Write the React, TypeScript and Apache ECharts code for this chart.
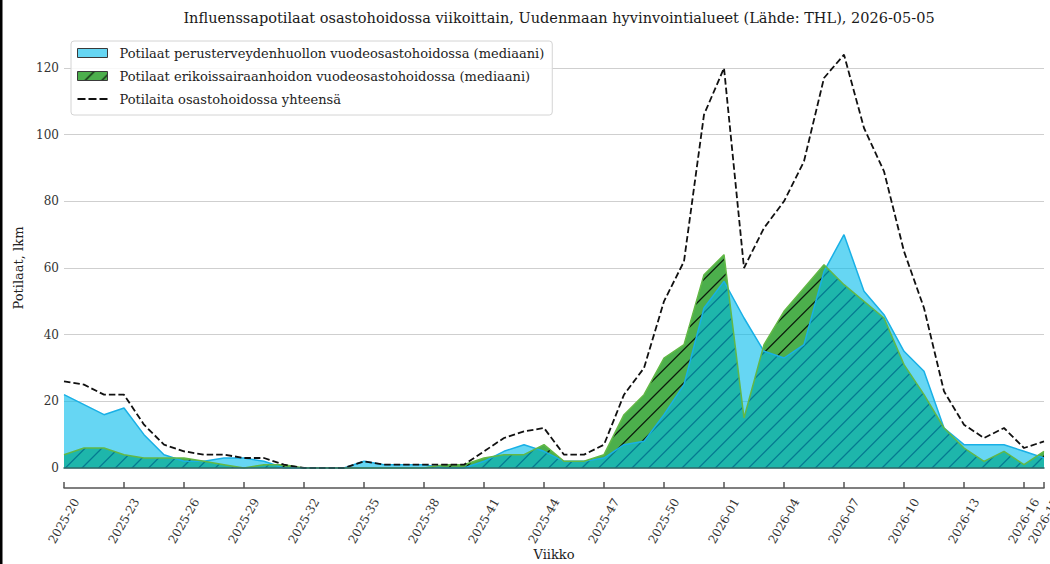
import React, { useEffect, useRef } from 'react';
import * as echarts from 'echarts';

const FONT = '"DejaVu Serif", "Liberation Serif", serif';

const TITLE = 'Influenssapotilaat osastohoidossa viikoittain, Uudenmaan hyvinvointialueet (Lähde: THL), 2026-05-05';
const NAME_PRIMARY = 'Potilaat perusterveydenhuollon vuodeosastohoidossa (mediaani)';
const NAME_SPECIAL = 'Potilaat erikoissairaanhoidon vuodeosastohoidossa (mediaani)';
const NAME_TOTAL = 'Potilaita osastohoidossa yhteensä';
const X_NAME = 'Viikko';
const Y_NAME = 'Potilaat, lkm';

const weeks = [
  '2025-20', '2025-21', '2025-22', '2025-23', '2025-24', '2025-25', '2025-26', '2025-27', '2025-28', '2025-29',
  '2025-30', '2025-31', '2025-32', '2025-33', '2025-34', '2025-35', '2025-36', '2025-37', '2025-38', '2025-39',
  '2025-40', '2025-41', '2025-42', '2025-43', '2025-44', '2025-45', '2025-46', '2025-47', '2025-48', '2025-49',
  '2025-50', '2025-51', '2025-52', '2026-01', '2026-02', '2026-03', '2026-04', '2026-05', '2026-06', '2026-07',
  '2026-08', '2026-09', '2026-10', '2026-11', '2026-12', '2026-13', '2026-14', '2026-15', '2026-16', '2026-17',
];

// Perusterveydenhuolto (blue)
const primaryCare = [
  22, 19, 16, 18, 10, 4, 2, 2, 3, 3,
  2, 0, 0, 0, 0, 2, 1, 1, 1, 0,
  0, 2, 5, 7, 5, 2, 2, 3, 7, 8,
  16, 25, 48, 56, 45, 35, 33, 37, 59, 70,
  53, 46, 35, 29, 12, 7, 7, 7, 5, 3,
];

// Erikoissairaanhoito (green, hatched)
const specialistCare = [
  4, 6, 6, 4, 3, 3, 3, 2, 1, 0,
  1, 1, 0, 0, 0, 0, 0, 0, 0, 1,
  1, 3, 4, 4, 7, 2, 2, 4, 16, 22,
  33, 37, 58, 64, 15, 37, 47, 54, 61, 55,
  50, 45, 31, 22, 12, 6, 2, 5, 1, 5,
];

// Yhteensä (dashed)
const totalPatients = [
  26, 25, 22, 22, 13, 7, 5, 4, 4, 3,
  3, 1, 0, 0, 0, 2, 1, 1, 1, 1,
  1, 5, 9, 11, 12, 4, 4, 7, 22, 30,
  50, 62, 106, 120, 60, 72, 80, 92, 117, 124,
  102, 89, 65, 48, 23, 13, 9, 12, 6, 8,
];

function makeHatch(bg: string, line: string, size: number, lw: number) {
  const c = document.createElement('canvas');
  c.width = size;
  c.height = size;
  const ctx = c.getContext('2d') as CanvasRenderingContext2D;
  ctx.fillStyle = bg;
  ctx.fillRect(0, 0, size, size);
  ctx.strokeStyle = line;
  ctx.lineWidth = lw;
  const step = size / 3;
  ctx.beginPath();
  for (let k = 0; k <= 6; k++) {
    const c0 = k * step;
    ctx.moveTo(c0 + 1, -1);
    ctx.lineTo(c0 - size - 1, size + 1);
  }
  ctx.stroke();
  return c;
}

const tickShown = (i: number) => i % 3 === 0 || i === weeks.length - 1;

export default function App() {
  const ref = useRef<HTMLDivElement>(null);

  useEffect(() => {
    if (!ref.current) return;
    const chart = echarts.init(ref.current, null, { renderer: 'svg' });
    const GREEN = '#4caf4c';
    const hatch = makeHatch(GREEN, 'rgba(0,0,0,0.85)', 50, 1.3);
    const hatchPattern: any = { image: hatch, repeat: 'repeat', imageWidth: 50, imageHeight: 50 };
    const hatchLegend: any = { image: makeHatch(GREEN, 'rgba(0,0,0,0.85)', 50, 1.3), repeat: 'repeat', imageWidth: 50, imageHeight: 50 };

    const dashIcon = 'path://M0,0L0,0M0,9L0,9M0,3.6h8v1.8h-8zM11,3.6h8v1.8h-8zM22,3.6h8v1.8h-8z';

    const option: any = {
      animation: false,
      title: {
        text: TITLE,
        left: 559,
        top: 10,
        padding: 0,
        textAlign: 'center',
        textStyle: { fontFamily: FONT, fontSize: 14.5, fontWeight: 'normal', color: '#1a1a1a' },
      },
      grid: { left: 64, right: 6, top: 68, bottom: 96, containLabel: false, outerBoundsMode: 'none' },
      legend: {
        orient: 'vertical',
        left: 71,
        top: 41,
        padding: [4, 8, 8, 6],
        itemWidth: 30,
        itemHeight: 9,
        itemGap: 7,
        selectedMode: false,
        backgroundColor: 'rgba(255,255,255,0.85)',
        borderColor: '#d4d4d4',
        borderWidth: 1,
        borderRadius: 3,
        textStyle: { fontFamily: FONT, fontSize: 13, color: '#222', padding: [0, 0, 0, 7], lineHeight: 16 },
        data: [
          { name: NAME_PRIMARY, icon: 'rect', itemStyle: { color: 'rgb(102,214,243)', borderColor: '#3a3a3a', borderWidth: 1 } },
          { name: NAME_SPECIAL, icon: 'rect', itemStyle: { color: hatchLegend, borderColor: '#3a3a3a', borderWidth: 1 } },
          { name: NAME_TOTAL, icon: dashIcon, itemStyle: { color: '#111', borderWidth: 0 } },
        ],
      },
      xAxis: [
        {
          type: 'category',
          data: weeks,
          boundaryGap: false,
          position: 'bottom',
          offset: 20,
          name: X_NAME,
          nameLocation: 'middle',
          nameGap: 60,
          nameMoveOverlap: false,
          nameTextStyle: { fontFamily: FONT, fontSize: 13, color: '#222' },
          axisLine: { onZero: false, lineStyle: { color: '#555', width: 1.5 } },
          axisTick: { inside: true, length: 6, interval: (i: number) => tickShown(i), lineStyle: { color: '#555', width: 1.5 } },
          axisLabel: {
            interval: (i: number) => tickShown(i),
            rotate: 60,
            align: 'center',
            verticalAlign: 'middle',
            margin: 33,
            fontFamily: FONT,
            fontSize: 12,
            color: '#333',
          },
          splitLine: { show: false },
        },
        {
          type: 'category',
          data: weeks,
          boundaryGap: false,
          position: 'bottom',
          offset: 0,
          z: 10,
          axisLine: { onZero: false, lineStyle: { color: '#2f6868', width: 1.5 } },
          axisTick: { show: false },
          axisLabel: { show: false },
          splitLine: { show: false },
        },
      ],
      yAxis: {
        type: 'value',
        min: 0,
        max: 120,
        interval: 20,
        name: Y_NAME,
        nameLocation: 'middle',
        nameGap: 33,
        nameTextStyle: { fontFamily: FONT, fontSize: 13, color: '#222' },
        axisLine: { show: false },
        axisTick: { show: false },
        axisLabel: { margin: 5, fontFamily: FONT, fontSize: 12, color: '#333' },
        splitLine: { lineStyle: { color: '#cfcfcf', width: 1 } },
      },
      series: [
        {
          name: NAME_SPECIAL,
          type: 'line',
          data: specialistCare,
          symbol: 'none',
          z: 2,
          lineStyle: { width: 0, opacity: 0 },
          areaStyle: { color: hatchPattern, opacity: 1 },
        },
        {
          name: NAME_PRIMARY,
          type: 'line',
          data: primaryCare,
          symbol: 'none',
          z: 3,
          lineStyle: { color: '#19b0e6', width: 1.5 },
          areaStyle: { color: 'rgba(0,187,235,0.6)', opacity: 1 },
        },
        {
          name: NAME_SPECIAL,
          type: 'line',
          data: specialistCare,
          symbol: 'none',
          z: 4,
          lineStyle: { color: '#62b846', width: 1.5 },
        },
        {
          name: NAME_TOTAL,
          type: 'line',
          data: totalPatients,
          symbol: 'none',
          z: 5,
          clip: false,
          lineStyle: { color: '#111', width: 1.8, type: [6.5, 3] },
        },
      ],
      graphic: [
        { type: 'rect', left: 0, top: 0, shape: { x: 0, y: 0, width: 2.5, height: 564 }, style: { fill: '#000' }, silent: true },
      ],
    };

    chart.setOption(option);
    return () => chart.dispose();
  }, []);

  return <div ref={ref} style={{ position: 'fixed', left: 0, top: 0, width: 1050, height: 564, background: '#fff' }} />;
}
